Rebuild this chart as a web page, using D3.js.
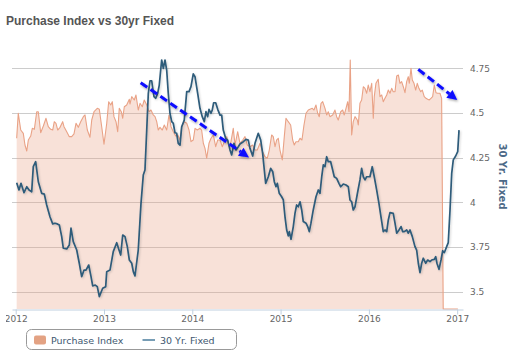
<!DOCTYPE html>
<html><head><meta charset="utf-8">
<script src="https://cdn.jsdelivr.net/npm/d3@7"></script>
<style>html,body{margin:0;padding:0;background:#fff;} svg{display:block}</style>
</head><body><svg id="c" width="529" height="358"></svg>
<script>
// ---------- DATA ----------
const chartTitle = "Purchase Index vs 30yr Fixed";
const seriesNames = ["Purchase Index", "30 Yr. Fixed"];
const rightAxisTitle = "30 Yr. Fixed";

// 30 Yr. Fixed rate (decimal year, %)
const rateYears = [2012.011,2012.037,2012.060,2012.094,2012.125,2012.151,2012.181,2012.199,2012.226,2012.256,2012.294,2012.324,2012.351,2012.388,2012.419,2012.445,2012.471,2012.494,2012.521,2012.539,2012.578,2012.607,2012.626,2012.652,2012.691,2012.720,2012.747,2012.774,2012.796,2012.827,2012.853,2012.872,2012.901,2012.924,2012.947,2012.985,2013.019,2013.031,2013.068,2013.105,2013.144,2013.170,2013.189,2013.212,2013.238,2013.264,2013.287,2013.314,2013.332,2013.351,2013.388,2013.419,2013.445,2013.464,2013.484,2013.502,2013.521,2013.540,2013.566,2013.586,2013.608,2013.626,2013.653,2013.672,2013.691,2013.710,2013.728,2013.747,2013.767,2013.785,2013.804,2013.823,2013.841,2013.861,2013.880,2013.909,2013.937,2013.963,2013.985,2014.011,2014.031,2014.061,2014.087,2014.113,2014.136,2014.155,2014.174,2014.189,2014.212,2014.226,2014.242,2014.265,2014.288,2014.314,2014.333,2014.351,2014.378,2014.401,2014.427,2014.446,2014.472,2014.495,2014.521,2014.540,2014.578,2014.608,2014.634,2014.653,2014.684,2014.710,2014.747,2014.775,2014.797,2014.812,2014.831,2014.861,2014.888,2014.911,2014.929,2014.948,2014.963,2014.985,2015.012,2015.031,2015.050,2015.069,2015.087,2015.099,2015.118,2015.144,2015.163,2015.182,2015.200,2015.220,2015.239,2015.257,2015.288,2015.307,2015.325,2015.344,2015.370,2015.401,2015.427,2015.446,2015.466,2015.484,2015.503,2015.522,2015.540,2015.567,2015.590,2015.608,2015.635,2015.661,2015.681,2015.710,2015.741,2015.767,2015.786,2015.805,2015.823,2015.843,2015.871,2015.899,2015.918,2015.937,2015.956,2015.975,2016.012,2016.038,2016.061,2016.088,2016.114,2016.137,2016.163,2016.182,2016.202,2016.220,2016.239,2016.276,2016.296,2016.315,2016.341,2016.364,2016.383,2016.401,2016.428,2016.446,2016.466,2016.492,2016.522,2016.541,2016.560,2016.579,2016.598,2016.616,2016.643,2016.666,2016.692,2016.711,2016.741,2016.757,2016.771,2016.794,2016.817,2016.836,2016.854,2016.881,2016.899,2016.919,2016.938,2016.956,2016.983,2017.006,2017.021];
const rateValues = [4.110,4.069,4.106,4.054,4.087,4.069,4.059,4.199,4.227,4.115,4.050,4.046,3.985,3.919,3.879,3.883,3.879,3.873,3.808,3.743,3.739,3.761,3.855,3.780,3.733,3.659,3.584,3.621,3.621,3.649,3.584,3.532,3.537,3.528,3.472,3.519,3.528,3.612,3.621,3.724,3.774,3.733,3.705,3.817,3.808,3.752,3.677,3.659,3.612,3.588,3.733,3.994,4.153,4.181,4.404,4.610,4.680,4.680,4.591,4.582,4.610,4.656,4.796,4.749,4.796,4.740,4.610,4.498,4.451,4.442,4.389,4.386,4.330,4.320,4.423,4.460,4.619,4.619,4.647,4.718,4.702,4.610,4.526,4.479,4.451,4.507,4.479,4.520,4.498,4.516,4.557,4.557,4.520,4.488,4.488,4.404,4.358,4.348,4.293,4.265,4.330,4.293,4.311,4.326,4.339,4.352,4.348,4.302,4.259,4.330,4.386,4.348,4.274,4.199,4.106,4.143,4.190,4.171,4.115,4.087,4.106,4.050,4.031,4.013,3.919,3.845,3.812,3.836,3.793,3.864,3.938,3.985,3.975,4.003,3.957,3.892,3.883,3.864,3.836,3.883,3.957,4.031,4.069,4.050,4.143,4.209,4.199,4.255,4.227,4.227,4.181,4.143,4.134,4.106,4.087,4.102,4.097,4.087,4.013,4.003,3.957,3.975,4.052,4.125,4.190,4.143,4.125,4.143,4.143,4.199,4.143,4.069,3.994,3.919,3.836,3.845,3.836,3.901,3.942,3.938,3.883,3.827,3.845,3.864,3.836,3.836,3.845,3.827,3.845,3.808,3.752,3.733,3.659,3.606,3.659,3.687,3.659,3.677,3.668,3.677,3.681,3.696,3.659,3.625,3.677,3.729,3.718,3.752,3.774,3.957,4.162,4.237,4.259,4.283,4.404];

// Purchase Index (decimal year, index value; hidden left axis)
const purchaseYears = [2012.011,2012.029,2012.057,2012.086,2012.105,2012.125,2012.143,2012.170,2012.188,2012.211,2012.238,2012.256,2012.283,2012.313,2012.343,2012.369,2012.396,2012.419,2012.437,2012.456,2012.476,2012.502,2012.532,2012.547,2012.578,2012.607,2012.634,2012.660,2012.683,2012.709,2012.736,2012.766,2012.785,2012.811,2012.841,2012.861,2012.887,2012.924,2012.947,2012.974,2013.000,2013.031,2013.053,2013.076,2013.094,2013.113,2013.136,2013.155,2013.173,2013.196,2013.212,2013.230,2013.257,2013.287,2013.294,2013.314,2013.343,2013.362,2013.388,2013.408,2013.434,2013.456,2013.484,2013.510,2013.532,2013.558,2013.578,2013.597,2013.615,2013.634,2013.660,2013.683,2013.710,2013.736,2013.759,2013.785,2013.812,2013.835,2013.861,2013.880,2013.909,2013.937,2013.963,2013.985,2014.011,2014.031,2014.057,2014.087,2014.106,2014.125,2014.144,2014.163,2014.189,2014.212,2014.238,2014.265,2014.288,2014.314,2014.340,2014.362,2014.390,2014.416,2014.438,2014.464,2014.484,2014.514,2014.540,2014.571,2014.597,2014.623,2014.653,2014.684,2014.710,2014.736,2014.767,2014.797,2014.823,2014.849,2014.872,2014.899,2014.917,2014.937,2014.956,2014.974,2014.993,2015.019,2015.042,2015.061,2015.087,2015.114,2015.137,2015.155,2015.174,2015.200,2015.220,2015.242,2015.265,2015.288,2015.314,2015.333,2015.359,2015.378,2015.401,2015.420,2015.438,2015.458,2015.477,2015.503,2015.522,2015.540,2015.559,2015.590,2015.616,2015.635,2015.653,2015.681,2015.703,2015.721,2015.741,2015.760,2015.775,2015.789,2015.805,2015.823,2015.843,2015.869,2015.880,2015.899,2015.918,2015.937,2015.956,2015.975,2015.993,2016.012,2016.032,2016.050,2016.061,2016.080,2016.106,2016.126,2016.145,2016.163,2016.182,2016.202,2016.220,2016.239,2016.258,2016.276,2016.296,2016.315,2016.334,2016.352,2016.371,2016.390,2016.409,2016.428,2016.446,2016.458,2016.477,2016.492,2016.511,2016.530,2016.548,2016.567,2016.587,2016.605,2016.627,2016.647,2016.666,2016.684,2016.703,2016.722,2016.741,2016.760,2016.779,2016.805,2016.824,2016.842,2017.008];
const purchaseValues = [190.4,218.3,199.6,195.9,182.9,176.2,188.5,192.9,201.5,200.4,220.0,220.0,196.6,204.1,212.7,203.3,200.4,199.6,208.9,207.1,199.6,202.6,208.9,203.3,197.7,192.2,192.2,195.2,207.1,202.6,208.9,214.5,216.4,199.6,191.5,210.8,220.0,223.8,222.7,203.3,183.7,207.1,231.2,227.5,231.2,214.5,208.9,197.7,223.8,220.0,212.7,225.6,227.5,233.9,228.6,236.8,233.1,238.7,221.9,229.4,225.6,233.1,227.5,220.0,221.9,216.4,214.5,208.9,199.6,202.6,199.6,205.2,199.6,216.4,203.3,197.7,192.9,194.1,188.5,203.3,208.9,207.1,199.6,186.6,188.5,201.5,199.6,201.5,199.6,184.8,179.2,168.1,184.8,190.4,194.1,181.0,188.5,188.5,181.0,186.6,192.2,181.0,186.6,201.5,182.9,197.7,184.8,188.5,192.2,182.9,181.0,182.9,177.3,177.3,184.8,175.4,169.9,168.1,177.3,194.1,192.2,181.0,188.5,190.4,177.3,166.2,192.2,212.7,208.9,205.2,188.5,182.9,186.6,186.6,190.4,188.5,205.2,218.3,221.9,222.7,223.8,221.9,227.5,218.3,214.5,229.4,231.2,223.8,216.4,220.0,214.5,216.4,221.9,214.5,210.8,220.0,221.9,216.4,223.8,231.2,220.0,277.7,194.1,208.9,214.5,210.8,205.2,229.4,233.1,247.9,246.1,240.6,249.8,242.3,251.7,212.7,236.8,251.7,256.2,236.8,238.7,231.2,235.0,238.7,244.2,240.6,246.1,242.3,242.3,259.9,261.0,251.7,253.5,247.9,241.2,253.5,259.1,251.7,268.4,255.4,251.7,244.2,251.7,246.1,242.3,244.2,236.8,235.0,233.9,233.1,235.0,236.8,249.8,241.2,240.6,240.6,234.9,0,0];

const yearTicks = [2012, 2013, 2014, 2015, 2016, 2017];
const rateTicks = [3.5, 3.75, 4, 4.25, 4.5, 4.75];
const xDomain = [2011.958, 2017.066];
const rateDomain = [3.403, 4.908];
const purchaseDomain = [0, 300];

// Annotation arrows in data units: [year, rate]
const arrowStarts = [[2013.415, 4.669], [2016.559, 4.744]];
const arrowEnds = [[2014.642, 4.251], [2017.001, 4.572]];

// ---------- LAYOUT ----------
const W = 529, H = 358;
const plot = {left: 12, right: 463, top: 40, bottom: 309};
const svg = d3.select("#c");

const x = d3.scaleLinear().domain(xDomain).range([plot.left, plot.right]);
const yRate = d3.scaleLinear().domain(rateDomain).range([plot.bottom, plot.top]);
const yPI = d3.scaleLinear().domain(purchaseDomain).range([plot.bottom, plot.top]);

const defs = svg.append("defs");
const sh = defs.append("filter").attr("id", "shadow").attr("x", "-10%").attr("y", "-10%").attr("width", "130%").attr("height", "130%");
sh.append("feDropShadow").attr("dx", 1).attr("dy", 1).attr("stdDeviation", 1).attr("flood-color", "#000").attr("flood-opacity", 0.18);
const sh2 = defs.append("filter").attr("id", "ashadow").attr("x", "-20%").attr("y", "-20%").attr("width", "140%").attr("height", "140%");
sh2.append("feDropShadow").attr("dx", 1).attr("dy", 1.5).attr("stdDeviation", 1.3).attr("flood-color", "#000").attr("flood-opacity", 0.35);
defs.append("clipPath").attr("id", "leftclip").append("rect").attr("x", 6).attr("y", 0).attr("width", W).attr("height", H);

// Gridlines
svg.append("g").selectAll("line").data(rateTicks).join("line")
  .attr("x1", plot.left).attr("x2", plot.right)
  .attr("y1", d => Math.round(yRate(d)) + 0.5).attr("y2", d => Math.round(yRate(d)) + 0.5)
  .attr("stroke", "#cccccc").attr("stroke-width", 1);

// Purchase Index area
const piData = purchaseYears.map((t, i) => [t, purchaseValues[i]]);
svg.append("path").datum(piData)
  .attr("d", d3.area().x(d => x(d[0])).y0(yPI(0)).y1(d => yPI(d[1])))
  .attr("fill", "#e8a285").attr("fill-opacity", 0.32);
svg.append("path").datum(piData)
  .attr("d", d3.line().x(d => x(d[0])).y(d => yPI(d[1])))
  .attr("fill", "none").attr("stroke", "#e9a286").attr("stroke-width", 1.1).attr("stroke-linejoin", "round");

// 30 Yr Fixed line
const rData = rateYears.map((t, i) => [t, rateValues[i]]);
svg.append("path").datum(rData)
  .attr("d", d3.line().x(d => x(d[0])).y(d => yRate(d[1])))
  .attr("fill", "none").attr("stroke", "#2e5b7a").attr("stroke-width", 1.7)
  .attr("stroke-linejoin", "round").attr("filter", "url(#shadow)");

// Annotation arrows
arrowStarts.forEach((s, i) => {
  const e = arrowEnds[i];
  const x1 = x(s[0]), y1 = yRate(s[1]), x2 = x(e[0]), y2 = yRate(e[1]);
  const ang = Math.atan2(y2 - y1, x2 - x1);
  const hl = 10, hw = 5;
  const bx = x2 - hl * Math.cos(ang), by = y2 - hl * Math.sin(ang);
  const g = svg.append("g").attr("filter", "url(#ashadow)");
  g.append("line").attr("x1", x1).attr("y1", y1).attr("x2", bx).attr("y2", by)
    .attr("stroke", "#0a0aff").attr("stroke-width", 3).attr("stroke-dasharray", "8,4");
  const px = -Math.sin(ang), py = Math.cos(ang);
  g.append("polygon")
    .attr("points", [[x2, y2], [bx + px * hw, by + py * hw], [bx - px * hw, by - py * hw]].map(p => p.join(",")).join(" "))
    .attr("fill", "#0a0aff");
});

// X axis
const xAxis = d3.axisBottom(x).tickValues(yearTicks).tickFormat(d3.format("d")).tickSize(5).tickSizeOuter(0);
const gx = svg.append("g").attr("clip-path", "url(#leftclip)").append("g")
  .attr("transform", `translate(0,${plot.bottom + 0.5})`).call(xAxis);
gx.select(".domain").attr("stroke", "#c0d0e0");
gx.selectAll(".tick line").attr("stroke", "#c0d0e0");
gx.selectAll(".tick text").attr("fill", "#666").attr("font-family", "DejaVu Sans, Verdana, sans-serif").attr("font-size", 9).attr("dy", "0.95em").attr("y", 4);

// Right axis (labels only)
const yAxis = d3.axisRight(yRate).tickValues(rateTicks).tickFormat(d => String(+d)).tickSize(0);
const gy = svg.append("g").attr("transform", `translate(${plot.right + 7},0)`).call(yAxis);
gy.select(".domain").remove();
gy.selectAll(".tick text").attr("fill", "#666").attr("font-family", "DejaVu Sans, Verdana, sans-serif").attr("font-size", 9).attr("x", 0);

// Right axis title
svg.append("text").attr("transform", `translate(499,${(plot.top + plot.bottom) / 2 + 2}) rotate(90)`)
  .attr("text-anchor", "middle").attr("fill", "#4d6a88").attr("font-weight", "bold")
  .attr("font-family", "DejaVu Sans, Verdana, sans-serif").attr("font-size", 10).text(rightAxisTitle);

// Title
svg.append("text").attr("x", 6).attr("y", 25).attr("fill", "#555")
  .attr("font-family", "Liberation Sans, Arial, sans-serif").attr("font-weight", "bold").attr("font-size", 12)
  .text(chartTitle);

// Legend
const lg = svg.append("g");
lg.append("rect").attr("x", 26.5).attr("y", 329.5).attr("width", 210).attr("height", 20).attr("rx", 5)
  .attr("fill", "#fff").attr("stroke", "#999").attr("stroke-width", 1);
lg.append("rect").attr("x", 34).attr("y", 335.5).attr("width", 12).attr("height", 9).attr("rx", 2).attr("fill", "#e3a283");
lg.append("text").attr("x", 51).attr("y", 343.5).attr("fill", "#3e576f")
  .attr("font-family", "DejaVu Sans, Verdana, sans-serif").attr("font-size", 9.5).text(seriesNames[0]);
lg.append("line").attr("x1", 142.5).attr("x2", 155).attr("y1", 340).attr("y2", 340).attr("stroke", "#4a7d9c").attr("stroke-width", 1.5);
lg.append("text").attr("x", 160).attr("y", 343.5).attr("fill", "#3e576f")
  .attr("font-family", "DejaVu Sans, Verdana, sans-serif").attr("font-size", 9.5).text(seriesNames[1]);
</script></body></html>
